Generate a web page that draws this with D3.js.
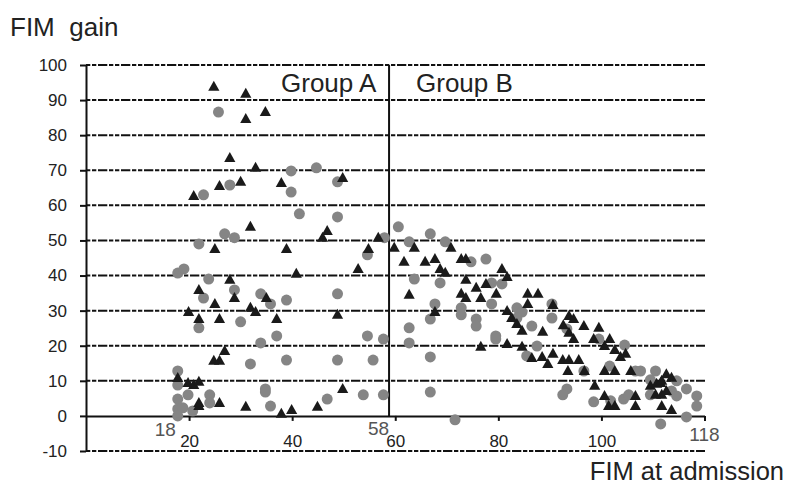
<!DOCTYPE html>
<html><head><meta charset="utf-8">
<script src="https://cdn.jsdelivr.net/npm/d3@7"></script>
<style>
html,body{margin:0;padding:0;background:#fff;}
svg text{font-family:"Liberation Sans",Arial,sans-serif;}
</style></head>
<body><svg id="chart" width="785" height="492"></svg>
<script>
// ---- data ----
const yTicks = [-10,0,10,20,30,40,50,60,70,80,90,100];
const xTicks = [20,40,60,80,100,120];
const xTickLabels = ["20","40","60","80","100",""];
const annotValues = [18,58,118];
const annotLabels = ["18","58","118"];
const dividerValue = 58.8;
const groupLabels = ["Group A","Group B"];

const triangleX = [24.8,31,31,34.8,27.9,32.9,25.9,30,37.9,20.9,49.8,31.9,25,38.9,40.8,27.9,21.9,28.8,35,25,19.9,31.9,32.9,21.9,25.9,37,26.9,24.8,25.9,17.8,19.8,20.9,21.9,21.9,21.9,25.9,31,37.9,39.9,46.8,45.9,56.7,54.8,52.8,48.8,49.8,44.9,
 59.8,63.7,70.8,61.7,65.8,67.7,68.7,69.7,72.8,73.7,73.7,75.7,77.6,62.7,72.8,73.7,76.6,79.6,67.7,76.6,80.7,81.7,85.7,87.7,85.7,90.6,81.7,82.6,83.6,93.7,94.6,92.6,96.6,99.5,84.6,88.6,93.7,94.6,98.5,101.6,100.6,102.6,103.7,104.7,81.7,84.6,86.5,88.5,90.6,89.6,92.5,93.7,95.6,93.5,96.7,100.6,102.6,105.7,98.7,100.6,101.4,102.6,106.6,106.6,109.5,110.7,111.5,112.6,113.6,111.7,110.5,111.7,112.6,111.7,113.6];
const triangleY = [93.8,91.8,84.6,86.6,73.5,70.7,65.5,66.7,66.4,62.7,67.8,53.9,47.6,47.6,40.5,38.8,35.9,33.6,33.6,31.9,29.6,30.8,29.6,27.6,27.6,27.6,18.5,15.7,15.7,10.8,9.4,8.8,9.7,3.7,2.8,3.7,2.6,0.6,1.7,52.7,50.8,50.8,47.6,41.9,28.8,7.7,2.6,
 47.9,47.9,47.9,43.9,43.9,44.7,41.9,40.8,44.7,44.7,38.8,36.5,37.6,34.5,34.8,33.6,33.6,34.8,29.6,19.7,41.9,39.6,34.8,34.8,31.9,31.6,29.9,27.9,26.2,28.5,27.6,25.8,25.6,25.1,24.3,24,23.7,21.9,21.9,21.9,19.9,18.8,16.8,17.7,20.5,19.7,16.5,16.8,17.7,14.8,15.9,15.9,15.9,12.8,12.8,12.8,12.8,12.8,8.6,5.7,2.8,2.8,5.7,2.8,8.6,9.2,9.4,11.9,10.9,10,6,6,7.1,2.8,1.7];

const circleX = [25.7,39.8,44.7,48.8,27.9,39.8,22.8,41.4,48.8,26.9,28.8,21.9,17.8,19,23.8,28.8,22.8,33.9,35.8,38.9,30,21.9,33.9,37,31.9,38.9,17.8,17.8,19.8,17.8,24,24,34.8,34.8,35.8,17.8,18.8,17.8,20.7,57.9,54.6,48.8,54.6,57.7,48.8,55.7,53.8,57.7,46.8,
 60.6,62.7,66.8,69.7,74.7,77.6,63.7,68.7,78.7,80.7,78.7,67.7,72.8,72.8,66.8,75.7,75.7,62.7,62.7,79.5,79.5,66.8,66.8,71.6,90.4,83.6,84.6,83.6,86.5,90.4,93.3,99.5,104.5,87.5,85.5,96.6,101.6,106.6,107.6,110.5,93.3,92.5,98.5,101.8,104.3,105.3,109.5,114.6,109.5,113.6,114.6,116.5,118.5,118.5,116.5,111.5];
const circleY = [86.6,69.8,70.7,66.7,65.8,63.8,63,57.6,56.7,51.9,50.8,49,40.7,41.9,39,35.9,33.6,34.8,31.9,33,26.8,25.1,20.8,22.8,14.8,15.9,12.8,8.8,6,4.8,6,3.7,7.7,6.8,2.8,2,2.3,0,1.4,50.8,45.9,34.8,22.8,21.9,15.9,15.9,6,6,4.8,
 53.9,49.6,51.9,49.6,43.9,44.7,39,37.9,37.9,37.6,31.9,31.9,30.8,28.8,27.6,27.6,25.6,25.1,20.8,22.8,21.9,16.8,6.8,-1.1,31.9,30.8,29.6,27.9,25.6,27.9,24.8,21.9,20.2,19.9,17.1,12.8,14.2,12.8,12.8,12.8,7.7,6,4,4.3,4.8,6,10.3,10,6,7.1,5.7,7.7,5.7,2.8,-0.3,-2.3];

// ---- chart ----
const svg = d3.select("#chart");
const x = d3.scaleLinear().domain([0,120]).range([86,704.5]);
const y = d3.scaleLinear().domain([-10,100]).range([451,65]);

// gridlines
svg.append("g").selectAll("line").data(yTicks.filter(v=>v!==0)).join("line")
  .attr("x1", x(0)).attr("x2", 705)
  .attr("y1", d=>y(d)).attr("y2", d=>y(d))
  .attr("stroke","#111").attr("stroke-width",2)
  .attr("stroke-dasharray","4.3,1.7,4.3,1.7,9.3,1.7");

// y axis
const yAxis = svg.append("g").attr("transform",`translate(${x(0)},0)`)
  .call(d3.axisLeft(y).tickValues(yTicks).tickSizeInner(6).tickSizeOuter(0).tickPadding(13)
     .tickFormat(d=>String(d)));
yAxis.select(".domain").attr("stroke","#111").attr("stroke-width",2);
yAxis.selectAll(".tick line").attr("stroke","#111").attr("stroke-width",2);
yAxis.selectAll(".tick text").attr("font-size",17).attr("fill","#222")
  .attr("font-family","'Liberation Sans',Arial,sans-serif");

// x axis at y=0
const xAxis = svg.append("g").attr("transform",`translate(0,${y(0)})`)
  .call(d3.axisBottom(x).tickValues(xTicks).tickSizeInner(5).tickSizeOuter(0).tickPadding(14)
     .tickFormat((d,i)=>xTickLabels[i]));
xAxis.select(".domain").attr("stroke","#111").attr("stroke-width",2);
xAxis.selectAll(".tick line").attr("stroke","#111").attr("stroke-width",2);
xAxis.selectAll(".tick text").attr("font-size",17).attr("fill","#222")
  .attr("font-family","'Liberation Sans',Arial,sans-serif");

// divider line
svg.append("line").attr("x1",x(dividerValue)).attr("x2",x(dividerValue))
  .attr("y1",y(100)).attr("y2",y(0)).attr("stroke","#111").attr("stroke-width",2);

// serif annotations
const annot = [
  {v:annotValues[0], t:annotLabels[0], anchor:"end", dx:-3, yy:436},
  {v:dividerValue, t:annotLabels[1], anchor:"end", dx:0, yy:435},
  {v:120, t:annotLabels[2], anchor:"middle", dx:0, yy:441}
];
svg.append("g").selectAll("text").data(annot).join("text")
  .attr("x", d=>x(d.v)+d.dx).attr("y", d=>d.yy)
  .attr("text-anchor", d=>d.anchor)
  .attr("font-family","'Liberation Serif','Times New Roman',serif")
  .attr("font-size",19).attr("fill","#555").text(d=>d.t);

// circles
const circ = circleX.map((v,i)=>({x:v,y:circleY[i]}));
svg.append("g").selectAll("circle").data(circ).join("circle")
  .attr("cx",d=>x(d.x)).attr("cy",d=>y(d.y)).attr("r",5.5).attr("fill","#858585");

// triangles
const tri = triangleX.map((v,i)=>({x:v,y:triangleY[i]}));
svg.append("g").selectAll("path").data(tri).join("path")
  .attr("transform",d=>`translate(${x(d.x)},${y(d.y)})`)
  .attr("d","M0,-6L5.6,4L-5.6,4Z").attr("fill","#1a1a1a");

// group labels
svg.append("text").attr("x",281).attr("y",92).attr("font-size",26).attr("fill","#222").text(groupLabels[0]);
svg.append("text").attr("x",416).attr("y",92).attr("font-size",26).attr("fill","#222").text(groupLabels[1]);

// axis titles
svg.append("text").attr("x",10).attr("y",36).attr("font-size",26).attr("fill","#222")
  .attr("xml:space","preserve").style("white-space","pre").text("FIM  gain");
svg.append("text").attr("x",784).attr("y",480).attr("text-anchor","end").attr("font-size",25.5).attr("fill","#222")
  .text("FIM at admission");
</script></body></html>
